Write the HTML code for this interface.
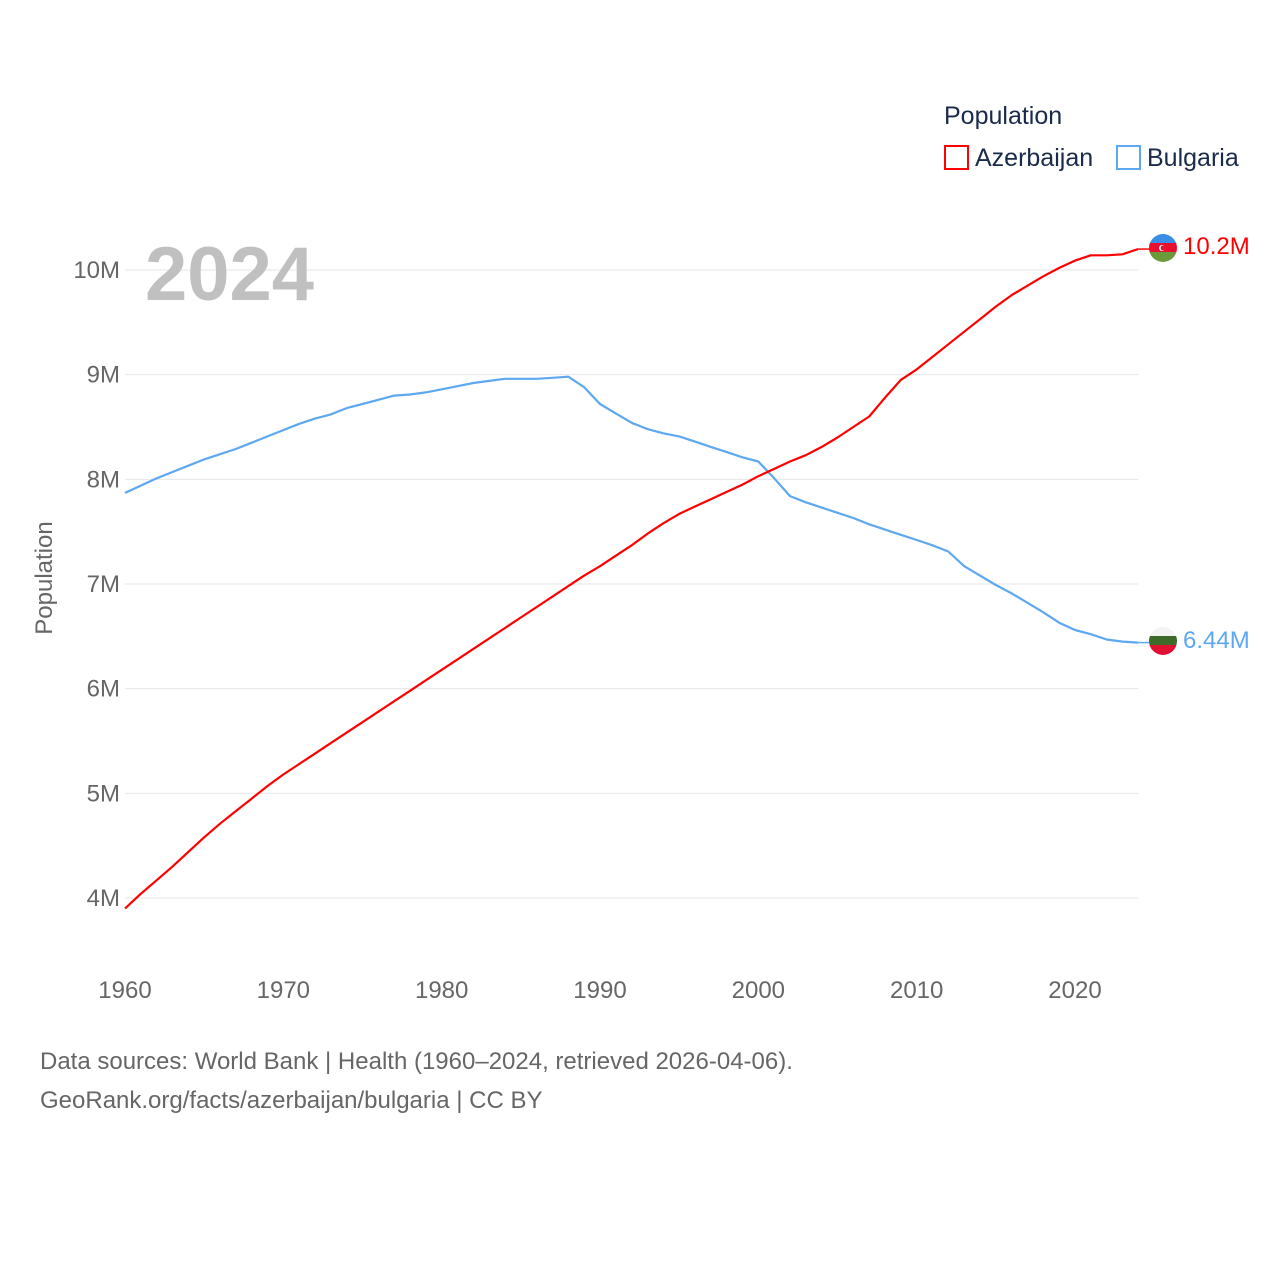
<!DOCTYPE html>
<html><head><meta charset="utf-8"><style>
body{margin:0;background:#fff;font-family:"Liberation Sans",sans-serif;}
svg{display:block}
</style></head><body>
<svg id="chart" width="1280" height="1280" viewBox="0 0 1280 1280">
<defs>
<clipPath id="c1"><circle cx="1163" cy="248" r="14"/></clipPath>
<clipPath id="c2"><circle cx="1163" cy="641" r="14"/></clipPath>
</defs>
<g id="grid"></g>
<g id="yticks"></g>
<g id="xticks"></g>
<text x="145" y="300" font-size="76" font-weight="bold" fill="#c0c0c0">2024</text>
<text x="52" y="578" font-size="24" fill="#666" transform="rotate(-90 52 578)" text-anchor="middle">Population</text>
<g id="series"></g>
<g>
<text x="944" y="124" font-size="25" fill="#1a2a4a">Population</text>
<g><rect x="945" y="146" width="23" height="23" fill="none" stroke="#ff0000" stroke-width="2"/><text x="975" y="166" font-size="25" fill="#1a2a4a">Azerbaijan</text></g>
<g><rect x="1117" y="146" width="23" height="23" fill="none" stroke="#5da8f0" stroke-width="2"/><text x="1147" y="166" font-size="25" fill="#1a2a4a">Bulgaria</text></g>
</g>
<g clip-path="url(#c1)">
<rect x="1149" y="234" width="28" height="10" fill="#3a8ee6"/><rect x="1149" y="243" width="28" height="10" fill="#e8102e"/><rect x="1149" y="252" width="28" height="10" fill="#6a9a3a"/>
<circle cx="1162" cy="248" r="3" fill="#fff"/><circle cx="1163" cy="248" r="2.4" fill="#e8102e"/>
</g>
<g clip-path="url(#c2)">
<rect x="1149" y="627" width="28" height="10" fill="#f4f4f4"/><rect x="1149" y="636" width="28" height="10" fill="#3e6a2a"/><rect x="1149" y="645" width="28" height="10" fill="#e01030"/>
</g>
<text x="1183" y="254" font-size="24" fill="#ff0000">10.2M</text>
<text x="1183" y="648" font-size="24" fill="#5da8f0">6.44M</text>
<text x="40" y="1069" font-size="24" fill="#666">Data sources: World Bank | Health (1960–2024, retrieved 2026-04-06).</text>
<text x="40" y="1108" font-size="24" fill="#666">GeoRank.org/facts/azerbaijan/bulgaria | CC BY</text>
</svg>
<script>
const years=[];for(let y=1960;y<=2024;y++)years.push(y);
const azerbaijan=[3.90,4.04,4.17,4.30,4.44,4.58,4.71,4.83,4.95,5.07,5.18,5.28,5.38,5.48,5.58,5.68,5.78,5.88,5.98,6.08,6.18,6.28,6.38,6.48,6.58,6.68,6.78,6.88,6.98,7.08,7.17,7.27,7.37,7.48,7.58,7.67,7.74,7.81,7.88,7.95,8.03,8.10,8.17,8.23,8.31,8.40,8.50,8.60,8.78,8.95,9.05,9.17,9.29,9.41,9.53,9.65,9.76,9.85,9.94,10.02,10.09,10.14,10.14,10.15,10.20];
const bulgaria=[7.87,7.94,8.01,8.07,8.13,8.19,8.24,8.29,8.35,8.41,8.47,8.53,8.58,8.62,8.68,8.72,8.76,8.80,8.81,8.83,8.86,8.89,8.92,8.94,8.96,8.96,8.96,8.97,8.98,8.88,8.72,8.63,8.54,8.48,8.44,8.41,8.36,8.31,8.26,8.21,8.17,8.01,7.84,7.78,7.73,7.68,7.63,7.57,7.52,7.47,7.42,7.37,7.31,7.17,7.08,6.99,6.91,6.82,6.73,6.63,6.56,6.52,6.47,6.45,6.44];
const yTicks=[4,5,6,7,8,9,10];
const yTickLabels=["4M","5M","6M","7M","8M","9M","10M"];
const xTicks=[1960,1970,1980,1990,2000,2010,2020];
const NS="http://www.w3.org/2000/svg";
const xs=v=>125+(v-1960)*(950/60);
const ys=v=>898-(v-4)*104.67;
function mk(tag,attrs,parent){const e=document.createElementNS(NS,tag);for(const k in attrs)e.setAttribute(k,attrs[k]);parent.appendChild(e);return e;}
const grid=document.getElementById('grid'),yt=document.getElementById('yticks'),xt=document.getElementById('xticks'),ser=document.getElementById('series');
yTicks.forEach((t,i)=>{
 const l=mk('line',{x1:125,x2:1138,y1:ys(t),y2:ys(t),stroke:'#e6e6e6','stroke-width':1},grid);
 
 
 const tx=mk('text',{x:120,y:ys(t)+8,'text-anchor':'end','font-size':24,fill:'#666'},yt);
 tx.textContent=yTickLabels[i];
 
 
});
xTicks.forEach(t=>{
 const tx=mk('text',{x:xs(t),y:998,'text-anchor':'middle','font-size':24,fill:'#666'},xt);
 tx.textContent=t;
 
 
});
function line(data,color,name){
 const d=data.map((v,i)=>(i?'L':'M')+xs(years[i]).toFixed(1)+' '+ys(v).toFixed(1)).join(' ');
 const p=mk('path',{d:d,fill:'none',stroke:color,'stroke-width':2.2,'stroke-linejoin':'round'},ser);
 
 
 const last=data[data.length-1];
 const e=mk('line',{x1:xs(2024),x2:1150,y1:ys(last),y2:ys(last),stroke:color,'stroke-width':1.5},ser);
 
 
}
line(bulgaria,'#5da8f0','bulgaria-line');
line(azerbaijan,'#ff0000','azerbaijan-line');
</script>
</body></html>
